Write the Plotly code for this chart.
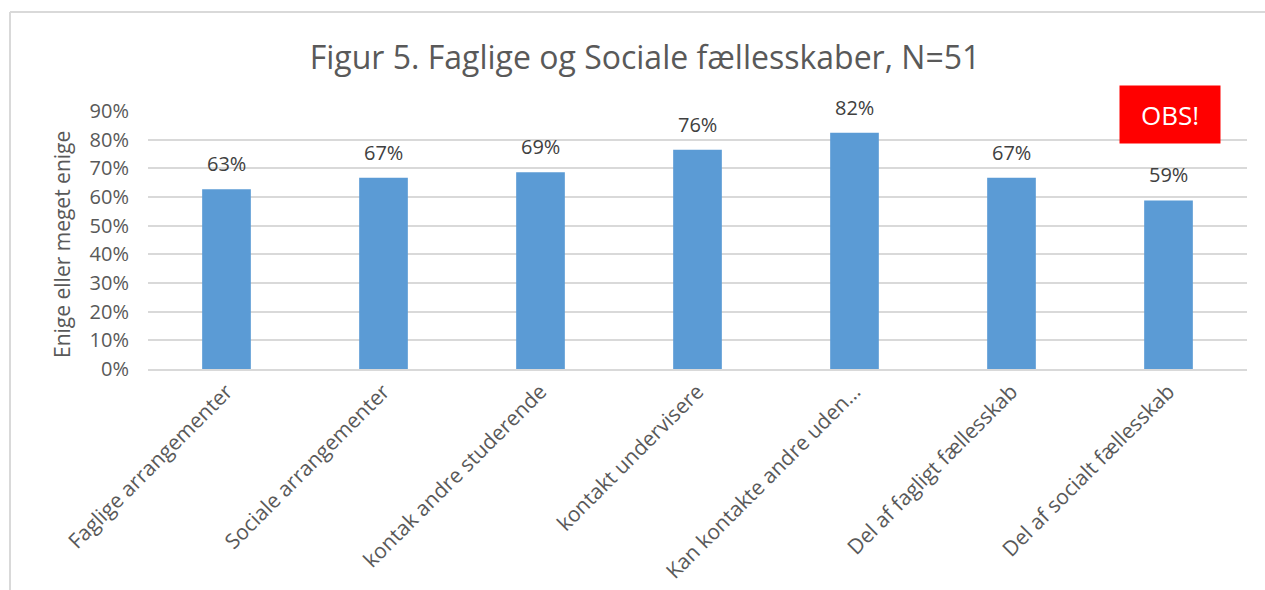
import plotly.graph_objects as go

categories = [
    "Faglige arrangementer",
    "Sociale arrangementer",
    "kontak andre studerende",
    "kontakt undervisere",
    "Kan kontakte andre uden…",
    "Del af fagligt fællesskab",
    "Del af socialt fællesskab",
]
values = [0.627, 0.667, 0.686, 0.7647, 0.824, 0.667, 0.588]
value_labels = ["63%", "67%", "69%", "76%", "82%", "67%", "59%"]
tick_vals = [0, 0.1, 0.2, 0.3, 0.4, 0.5, 0.6, 0.7, 0.8, 0.9]
tick_text = ["0%", "10%", "20%", "30%", "40%", "50%", "60%", "70%", "80%", "90%"]

FONT = "Open Sans"
GREY = "#595959"

fig = go.Figure()
fig.add_trace(go.Bar(
    x=categories,
    y=values,
    marker=dict(color="#5B9BD5", line=dict(width=0)),
    hoverinfo="x+y",
))

annotations = []
for c, v, t in zip(categories, values, value_labels):
    annotations.append(dict(
        x=c, y=v, xref="x", yref="y", text=t, showarrow=False,
        yanchor="bottom", yshift=10,
        font=dict(family=FONT, size=20, color="#404040"),
    ))

annotations.append(dict(
    x=0.93, y=0.988, xref="paper", yref="paper", text="OBS!",
    showarrow=False, xanchor="center", yanchor="middle",
    bgcolor="#FF0000", width=100, height=57, borderpad=0,
    font=dict(family=FONT, size=26, color="white"),
))

annotations.append(dict(
    x=(62 - 148) / 1099, y=(369 - 245) / 258, xref="paper", yref="paper",
    text="Enige eller meget enige", textangle=-90, showarrow=False,
    xanchor="center", yanchor="middle",
    font=dict(family=FONT, size=21, color=GREY),
))

fig.update_layout(
    width=1265, height=590,
    paper_bgcolor="white", plot_bgcolor="white",
    margin=dict(l=148, r=18, t=111, b=221, autoexpand=False),
    title=dict(
        text="Figur 5. Faglige og Sociale fællesskaber, N=51",
        x=645 / 1265, xanchor="center", y=1 - 58 / 590, yanchor="middle",
        font=dict(family=FONT, size=32, color=GREY),
    ),
    bargap=0.69,
    showlegend=False,
    font=dict(family=FONT, color=GREY),
    annotations=annotations,
    shapes=[
        dict(type="line", xref="paper", yref="paper",
             x0=(10 - 148) / 1099, x1=(1265 - 148) / 1099 + 0.01,
             y0=1 + (111 - 12) / 258, y1=1 + (111 - 12) / 258,
             line=dict(color="#D9D9D9", width=2)),
        dict(type="line", xref="paper", yref="paper",
             x0=(10 - 148) / 1099, x1=(10 - 148) / 1099,
             y0=1 + (111 - 12) / 258, y1=-(590 - 369) / 258 - 0.05,
             line=dict(color="#D9D9D9", width=2)),
    ],
)

fig.update_xaxes(
    tickangle=-45, automargin=False,
    tickfont=dict(family=FONT, size=21, color=GREY),
    showgrid=False, showline=True, linecolor="#D9D9D9", linewidth=2,
    ticks="",
)
fig.update_yaxes(
    range=[0, 0.9], automargin=False,
    tickvals=tick_vals, ticktext=tick_text,
    tickfont=dict(family=FONT, size=20, color=GREY),
    ticklabelstandoff=18,
    showgrid=True, gridcolor="#D9D9D9", gridwidth=2,
    zeroline=False, showline=False, ticks="",
)

fig.write_html(
    "out.html",
    config={"displayModeBar": False},
    post_script="document.body.style.margin='0';document.body.style.overflow='hidden';",
)
